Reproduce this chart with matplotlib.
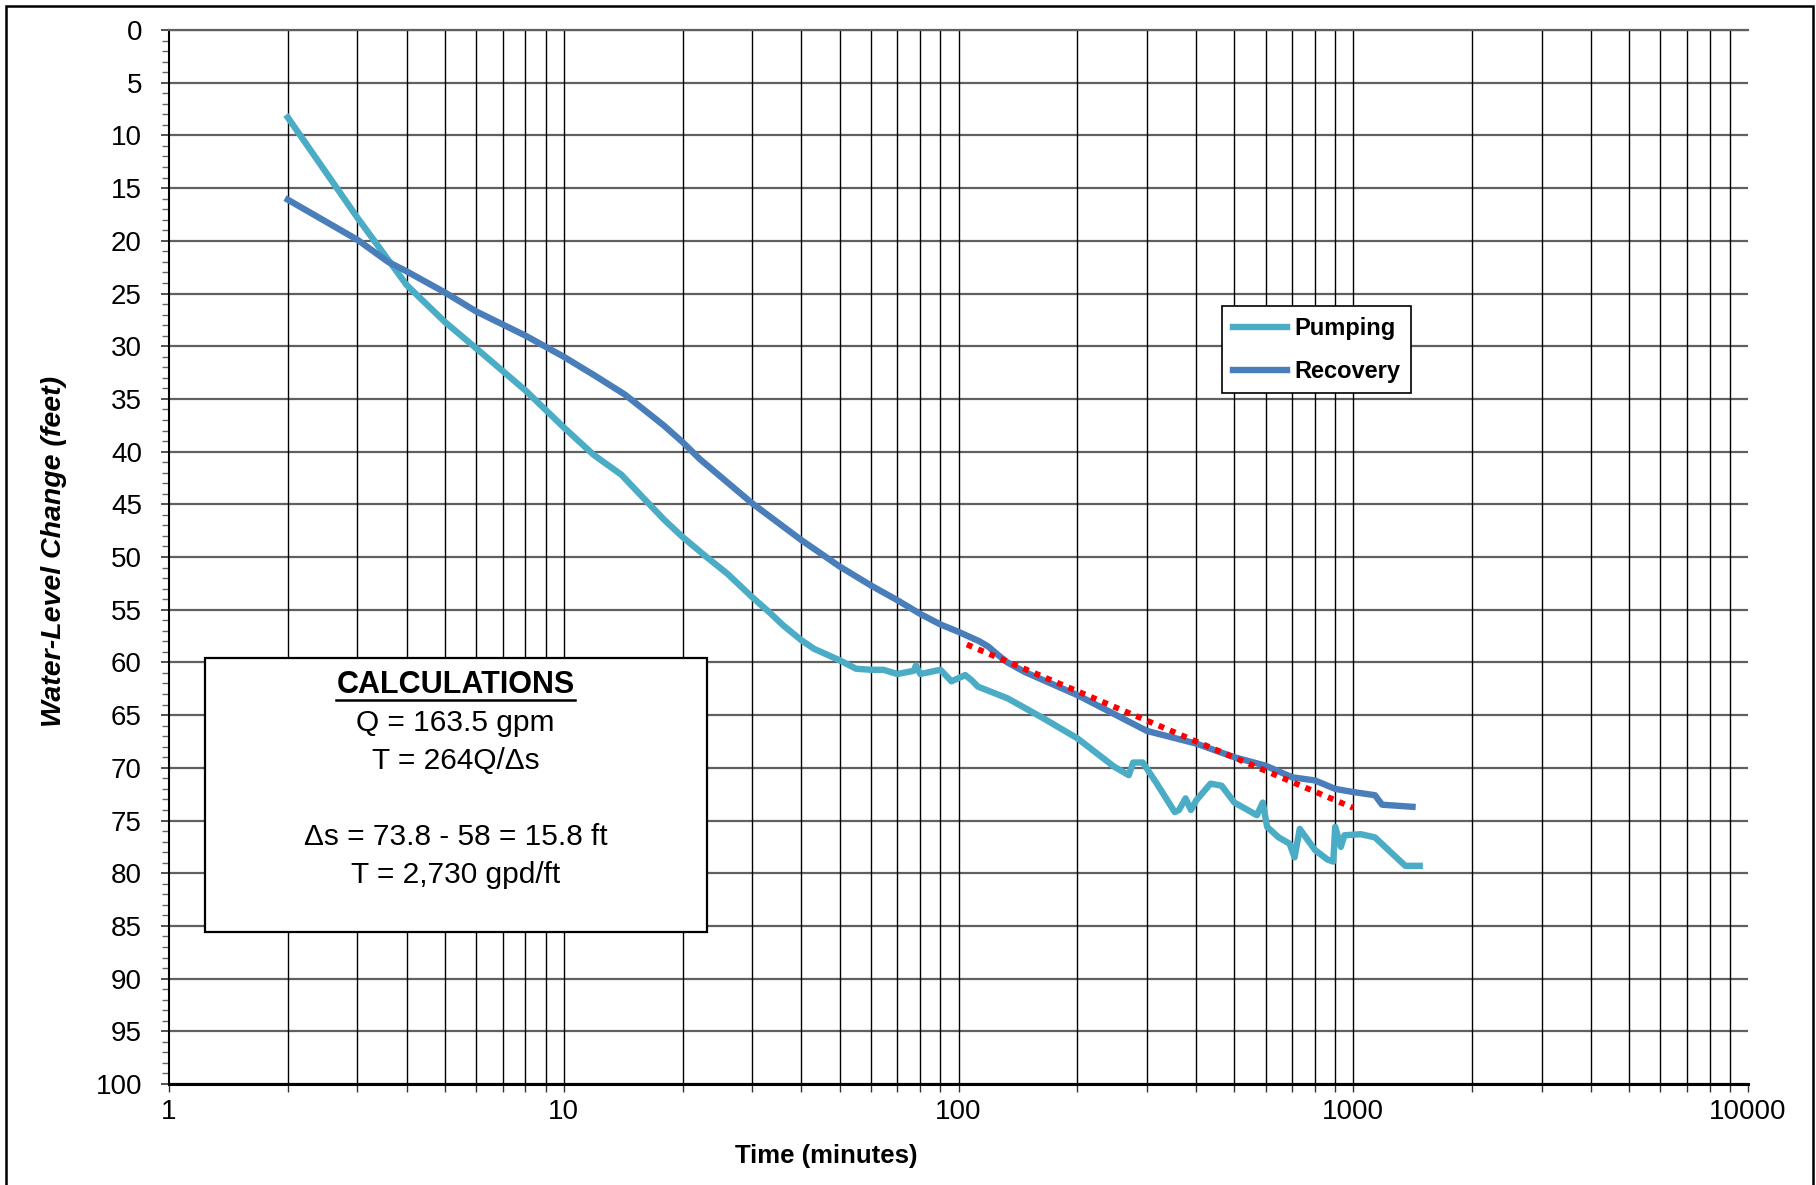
import numpy as np
import matplotlib
matplotlib.use("Agg")
import matplotlib.pyplot as plt
from matplotlib.patches import Rectangle
from matplotlib.lines import Line2D
from matplotlib.ticker import FixedLocator, NullFormatter, MultipleLocator

plt.rcParams['font.family'] = ['Liberation Sans', 'DejaVu Sans']

# pumping drawdown (minutes, feet)
pump_t = [2, 3, 4, 5, 6, 8, 10, 11.9, 14, 16.1, 18, 20, 23, 26, 30, 33.3, 36, 40, 43,
          50, 55, 60, 64.5, 70, 77, 78, 80, 90, 96, 104, 108, 112, 133, 164, 200,
          248, 270, 277, 293, 318, 353, 362, 376, 388, 400, 435, 464, 500, 540, 570,
          590, 605, 647, 690, 710, 732, 800, 860, 890, 900, 930, 950, 1045, 1135,
          1260, 1355, 1473]
pump_s = [8.3, 17.8, 24.2, 27.7, 30.2, 34.2, 37.7, 40.3, 42.2, 44.6, 46.5, 48.1, 50.0,
          51.6, 53.8, 55.3, 56.5, 57.9, 58.7, 59.8, 60.6, 60.7, 60.7, 61.1, 60.8, 60.3,
          61.1, 60.7, 61.8, 61.2, 61.7, 62.3, 63.4, 65.3, 67.2, 69.9, 70.7, 69.5, 69.5,
          71.5, 74.2, 74.0, 72.9, 74.0, 73.1, 71.5, 71.7, 73.3, 74.0, 74.5, 73.3, 75.6,
          76.6, 77.2, 78.5, 75.8, 77.8, 78.7, 78.9, 75.6, 77.5, 76.4, 76.3, 76.6, 78.2,
          79.3, 79.3]

# recovery
rec_t = [2, 3, 3.59, 4, 5, 6, 8, 10, 12, 14.3, 17.9, 20, 22.1, 30, 40, 50, 60, 70,
         80, 90, 100, 113, 119, 126, 133, 147, 200, 248, 300, 400, 500, 600, 700, 800,
         900, 1000, 1135, 1183, 1413]
rec_s = [16.1, 19.9, 22.0, 22.9, 24.9, 26.7, 29.0, 31.0, 32.8, 34.6, 37.5, 39.1, 40.7,
         44.9, 48.4, 50.9, 52.7, 54.1, 55.4, 56.4, 57.1, 58.0, 58.5, 59.3, 60.0, 60.9,
         63.1, 64.9, 66.5, 67.7, 69.0, 69.8, 70.9, 71.2, 72.0, 72.3, 72.6, 73.5, 73.7]

# straight line fit used for delta s
fit_t = [105, 1000]
fit_s = [58.3, 73.8]

x_major = [1, 10, 100, 1000, 10000]
x_labels = ['1', '10', '100', '1000', '10000']
y_major = list(range(0, 101, 5))

calc_title = 'CALCULATIONS'
calc_lines = ['Q = 163.5 gpm', 'T = 264Q/\u0394s', '\u0394s = 73.8 - 58 = 15.8 ft', 'T = 2,730 gpd/ft']

W, H = 1816, 1185
fig = plt.figure(figsize=(W / 100, H / 100), dpi=100)
ax = fig.add_axes([169 / W, 1 - 1084 / H, (1748 - 169) / W, (1084 - 30) / H])

ax.set_xscale('log')
ax.set_xlim(1, 10000)
ax.set_ylim(100, 0)

# grid
grid_x = [m * 10 ** d for d in range(4) for m in range(1, 10)][1:]
ax.vlines(grid_x, 0, 1, transform=ax.get_xaxis_transform(), colors='black', lw=1.0, zorder=1)
ax.yaxis.set_major_locator(FixedLocator(y_major))
ax.yaxis.set_minor_locator(MultipleLocator(1))
ax.grid(True, axis='y', which='major', color='#606060', lw=1.6, zorder=1)
ax.set_axisbelow(True)

ax.plot(pump_t, pump_s, color='#4BACC6', lw=4.6, label='Pumping', zorder=3, solid_joinstyle='round')
ax.plot(rec_t, rec_s, color='#4A7EBB', lw=4.6, label='Recovery', zorder=3, solid_joinstyle='round')
ax.plot(fit_t, fit_s, color='red', lw=4.2, linestyle=(0, (1, 1.1)), dash_capstyle='butt', zorder=4)

ax.xaxis.set_major_locator(FixedLocator(x_major))
ax.set_xticklabels(x_labels)
ax.xaxis.set_minor_locator(FixedLocator(grid_x))
ax.xaxis.set_minor_formatter(NullFormatter())
ax.tick_params(axis='both', which='both', direction='out', labelsize=20, color='#333333')
ax.tick_params(axis='x', which='both', length=5.5, width=1, pad=5)
ax.tick_params(axis='y', which='major', length=5.5, width=1.2, pad=14)
ax.tick_params(axis='y', which='minor', length=5, width=1, color='#666666')

ax.spines['right'].set_visible(False)
ax.spines['top'].set_color('#606060')
ax.spines['top'].set_linewidth(1.6)
ax.spines['left'].set_linewidth(1.5)
ax.spines['bottom'].set_linewidth(2.2)

leg = ax.legend(loc='upper left', bbox_to_anchor=(0.667, 0.738), borderaxespad=0,
                frameon=True, fancybox=False, edgecolor='black', framealpha=1,
                prop={'weight': 'bold', 'size': 17}, handlelength=2.3,
                handletextpad=0.3, labelspacing=0.85, borderpad=0.45)
leg.get_frame().set_linewidth(1.2)
leg.set_zorder(6)

# calculations box
ax.add_patch(Rectangle((0.0225, 0.144), 0.318, 0.260, transform=ax.transAxes,
                       facecolor='white', edgecolor='black', lw=1.6, zorder=5))
cx = 0.1814
t_title = ax.text(cx, 0.371, calc_title, transform=ax.transAxes, ha='center', va='baseline',
                  fontsize=22, fontweight='bold', zorder=6)
for yy, s in zip([0.3352, 0.2986, 0.2268, 0.1910], calc_lines):
    ax.text(cx, yy, s, transform=ax.transAxes, ha='center', va='baseline', fontsize=21.5, zorder=6)

fig.text(826 / W, 1 - 1162.7 / H, 'Time (minutes)', ha='center', va='baseline',
         fontsize=18.5, fontweight='bold')
fig.text(54 / W, 1 - 551 / H, 'Water-Level Change (feet)', ha='center', va='center',
         rotation=90, fontsize=20.5, fontweight='bold', fontstyle='italic')

# outer chart border
fig.add_artist(Rectangle((6 / W, -0.01), (1813 - 6) / W, 1.01 - 6 / H, transform=fig.transFigure,
                         fill=False, edgecolor='black', lw=1.8))

# underline for the title
fig.canvas.draw()
bb = t_title.get_window_extent()
uy = ax.transAxes.transform((0, 0.3643))[1]
fig.add_artist(Line2D([bb.x0, bb.x1], [uy, uy], transform=None, color='black', lw=1.8))

fig.savefig('out.png', dpi=100)
